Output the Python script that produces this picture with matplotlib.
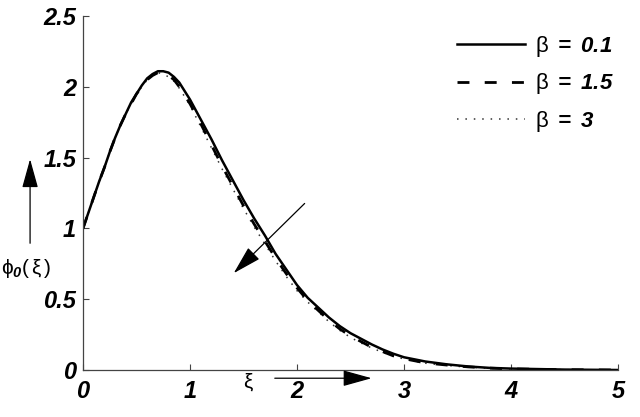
import matplotlib
matplotlib.use("Agg")
import matplotlib.pyplot as plt

plt.rcParams['mathtext.fontset'] = 'custom'
plt.rcParams['mathtext.rm'] = 'Liberation Sans'
plt.rcParams['mathtext.it'] = 'Liberation Sans:italic'
plt.rcParams['mathtext.bf'] = 'Liberation Sans:bold:italic'

# xi values
xi = [0.0, 0.05, 0.1, 0.15, 0.2, 0.25, 0.3, 0.35, 0.4, 0.45, 0.5, 0.55, 0.6, 0.65,
      0.7, 0.75, 0.8, 0.85, 0.9, 0.95, 1.0, 1.1, 1.2, 1.3, 1.4,
      1.5, 1.6, 1.7, 1.8, 1.9, 2.0, 2.1, 2.2, 2.3, 2.4, 2.5, 2.6, 2.7, 2.8, 2.9,
      3.0, 3.2, 3.4, 3.6, 3.8, 4.0, 4.5, 5.0]

# phi_0 for each beta
phi_b01 = [1.00, 1.11, 1.22, 1.33, 1.43, 1.54, 1.64, 1.73, 1.81, 1.89, 1.95, 2.01,
           2.06, 2.09, 2.11, 2.11, 2.10, 2.07, 2.03, 1.97, 1.91, 1.77,
           1.63, 1.48, 1.34, 1.20, 1.07, 0.95, 0.82, 0.71, 0.60, 0.51, 0.44, 0.37,
           0.31, 0.26, 0.22, 0.18, 0.145, 0.115, 0.09, 0.06, 0.04, 0.025, 0.015,
           0.01, 0.003, 0.0]
phi_b15 = [1.00, 1.11, 1.22, 1.33, 1.43, 1.54, 1.64, 1.73, 1.81, 1.88, 1.95, 2.00,
           2.05, 2.08, 2.10, 2.10, 2.08, 2.05, 2.00, 1.94, 1.88, 1.74,
           1.59, 1.44, 1.30, 1.16, 1.03, 0.91, 0.79, 0.68, 0.58, 0.49, 0.42, 0.35,
           0.29, 0.24, 0.20, 0.16, 0.13, 0.10, 0.08, 0.05, 0.035, 0.022, 0.013,
           0.008, 0.002, 0.0]
phi_b3 = [1.00, 1.11, 1.22, 1.33, 1.43, 1.54, 1.64, 1.73, 1.81, 1.88, 1.95, 2.00,
          2.05, 2.08, 2.10, 2.09, 2.07, 2.04, 1.99, 1.93, 1.87, 1.72,
          1.57, 1.42, 1.28, 1.14, 1.01, 0.89, 0.77, 0.66, 0.56, 0.48, 0.41, 0.34,
          0.28, 0.23, 0.19, 0.155, 0.125, 0.098, 0.078, 0.048, 0.032, 0.02, 0.012,
          0.007, 0.002, 0.0]

labels = [r'$\mathrm{\beta}\ \mathbf{=\ 0.1}$', r'$\mathrm{\beta}\ \mathbf{=\ 1.5}$',
          r'$\mathrm{\beta}\ \mathbf{=\ 3}$']

fig = plt.figure(figsize=(6.4, 4.17), dpi=100)
ax = fig.add_axes([0.1297, 0.1127, 0.8359, 0.8489])

ax.plot(xi, phi_b3, color='#333333', lw=1.1, linestyle=(0, (1, 4.5)), label=labels[2])
ax.plot(xi, phi_b15, color='black', lw=2.0, linestyle=(0, (4.3, 5.5)), label=labels[1])
ax.plot(xi, phi_b01, color='black', lw=1.8, label=labels[0])

ax.set_xlim(0, 5)
ax.set_ylim(0, 2.5)
ax.set_xticks([0, 1, 2, 3, 4, 5])
ax.set_xticklabels(['0', '1', '2', '3', '4', '5'])
ax.set_yticks([0, 0.5, 1, 1.5, 2, 2.5])
ax.set_yticklabels(['0', '0.5', '1', '1.5', '2', '2.5'])
for s in ['top', 'right']:
    ax.spines[s].set_visible(False)
for s in ['left', 'bottom']:
    ax.spines[s].set_color('#444444')
    ax.spines[s].set_linewidth(0.9)
ax.tick_params(direction='in', length=4, color='#444444', labelsize=17)
ax.tick_params(axis='x', pad=7)
ax.tick_params(axis='y', pad=5)
for t in ax.get_xticklabels() + ax.get_yticklabels():
    t.set_family('Liberation Sans')
    t.set_weight('bold')
    t.set_style('italic')

h, l = ax.get_legend_handles_labels()
leg = ax.legend(h[::-1], l[::-1], loc='upper right', bbox_to_anchor=(1.03, 1.005),
                frameon=False, fontsize=16, handlelength=3.05, handletextpad=0.45,
                labelspacing=0.55)

# y label with arrow
fig.text(0.002, 0.355, r'$\mathrm{\phi}_{\mathbf{0}}(\,\mathrm{\xi}\,)$', fontsize=15,
         ha='left', va='center')
ax.annotate('', xy=(0.047, 0.625), xycoords='figure fraction',
            xytext=(0.047, 0.41), textcoords='figure fraction',
            arrowprops=dict(arrowstyle='-|>,head_length=0.9,head_width=0.25',
                            color='black', lw=0.9, mutation_scale=20))

# x label with arrow
fig.text(0.388, 0.083, r'$\mathrm{\xi}$', fontsize=15, ha='center', va='center')
ax.annotate('', xy=(0.585, 0.093), xycoords='figure fraction',
            xytext=(0.425, 0.093), textcoords='figure fraction',
            arrowprops=dict(arrowstyle='-|>,head_length=0.9,head_width=0.25',
                            color='black', lw=0.9, mutation_scale=20))

# beta increasing arrow
ax.annotate('', xy=(1.39, 0.67), xytext=(2.09, 1.19),
            arrowprops=dict(arrowstyle='-|>,head_length=0.9,head_width=0.25',
                            color='black', lw=0.9, mutation_scale=20))

fig.savefig('out.png', dpi=100)
